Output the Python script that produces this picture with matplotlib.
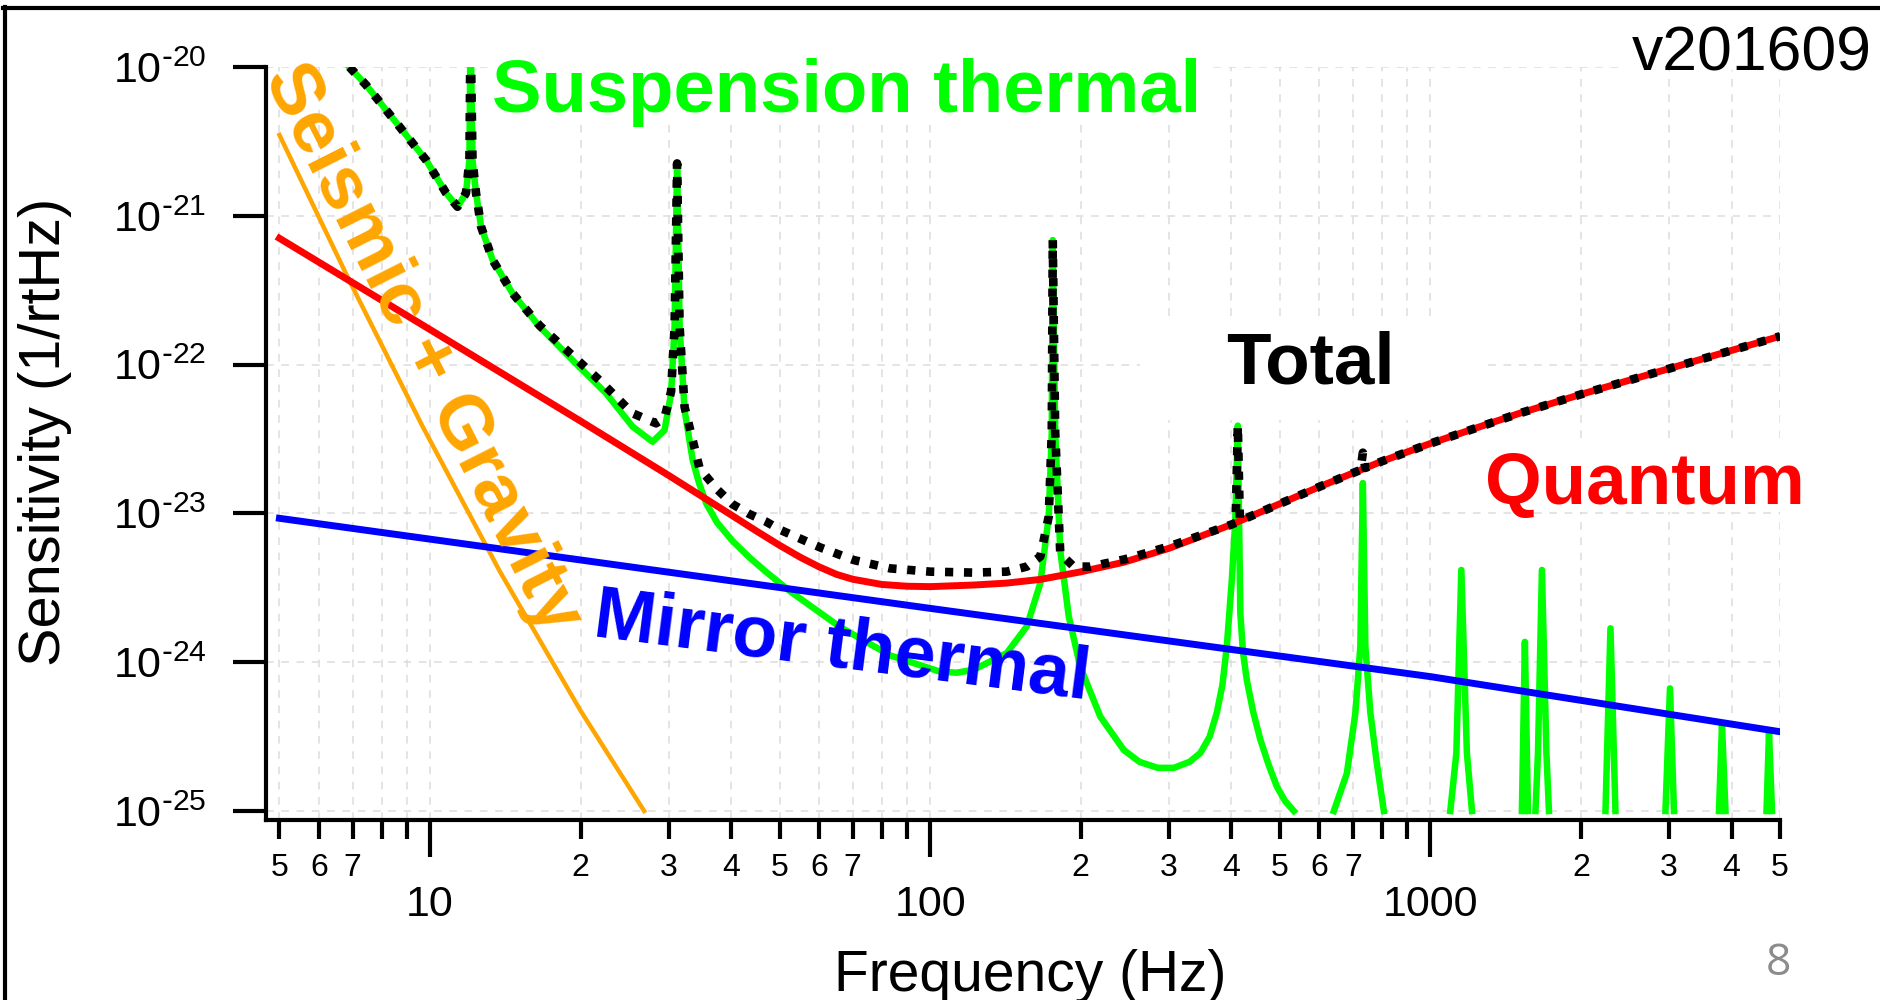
import numpy as np
import matplotlib
matplotlib.use("Agg")
import matplotlib.pyplot as plt
from matplotlib.ticker import FixedLocator, FixedFormatter, NullLocator
from matplotlib.lines import Line2D
from matplotlib.patches import Rectangle

plt.rcParams['font.family'] = ['Liberation Sans', 'DejaVu Sans']
plt.rcParams['mathtext.default'] = 'regular'

W, H = 1881, 1000
nan = np.nan

# ---------------- data ----------------
seismic_freq = [5.0, 6.9, 9.66, 13.8, 20.0, 26.8]
seismic_asd = [3.49e-21, 3.66e-22, 3.85e-23, 4.06e-24, 4.72e-25, 1.0e-25]

mirror_freq = [5.0, 100.0, 1000.0, 5000.0]
mirror_asd = [9.27e-24, 2.30e-24, 8.0e-25, 3.41e-25]

quantum_freq = [5.0, 10.0, 20.0, 30.0, 40.0, 45.0, 50.0, 55.0, 60.0, 65.0, 70.0,
                80.0, 90.0, 100.0, 122.0, 142.0, 166.0, 200.0, 244.0, 300.0,
                400.0, 500.0, 600.0, 800.0, 1000.0, 1500.0, 2000.0, 5000.0]
quantum_asd = [7.06e-22, 1.72e-22, 4.17e-23, 1.80e-23, 9.77e-24, 7.59e-24, 6.10e-24,
               5.07e-24, 4.37e-24, 3.89e-24, 3.61e-24, 3.33e-24, 3.24e-24, 3.22e-24,
               3.30e-24, 3.40e-24, 3.60e-24, 4.05e-24, 4.70e-24, 5.82e-24,
               8.41e-24, 1.16e-23, 1.51e-23, 2.24e-23, 2.95e-23, 4.68e-23,
               6.31e-23, 1.55e-22]

susp_freq = [6.9, 7.45, 8.69, 9.82, 10.77, 11.35, 11.8, 11.99, 12.05, 12.16, 12.36,
             12.65, 13.34, 14.62, 16.56, 19.28, 22.49, 25.41, 27.86, 29.44, 30.34,
             30.83, 31.05, 31.19, 31.55, 32.28, 33.5, 34.5, 35.65, 37.5, 40.27, 43.5,
             47.0, 52.5, 66.1, 83.2, 104.7, 113.0, 122.2, 142.2, 156.0, 166.0, 172.6,
             175.0, 175.8, 177.8, 182.0, 189.2, 199.5, 218.8, 243.8, 262.0, 285.0,
             307.0, 330.0, 346.7, 362.0, 374.1, 384.0, 391.7, 400.9, 407.4, 412.1,
             416.9, 422.0, 429.5, 442.0, 457.1, 475.0, 493.2, 512.0, 533.3, nan,
             641.2, 680.8, 707.9, 724.4, 732.8, 741.3, 758.6, 781.6, 807.2, nan,
             1096, 1127, 1153, 1183, 1211, nan,
             1524, 1545, 1567, nan,
             1622, 1641, 1671, 1706, 1726, nan,
             2239, 2291, 2344, nan,
             2951, 3013, 3069, nan,
             3776, 3828, 3890, nan,
             4699, 4753, 4819]
susp_asd = [1.0e-20, 7.57e-21, 3.97e-21, 2.37e-21, 1.42e-21, 1.15e-21, 1.42e-21,
            2.37e-21, 2.0e-20, 2.37e-21, 1.42e-21, 8.45e-22, 5.05e-22, 3.01e-22,
            1.80e-22, 1.07e-22, 6.41e-23, 3.83e-23, 3.03e-23, 3.63e-23, 6.41e-23,
            1.80e-22, 8.45e-22, 2.25e-21, 1.80e-22, 4.95e-23, 2.29e-23, 1.60e-23,
            1.17e-23, 8.67e-24, 6.52e-24, 5.06e-24, 4.04e-24, 2.99e-24, 1.72e-24,
            1.11e-24, 8.63e-25, 8.5e-25, 8.91e-25, 1.15e-24, 1.74e-24, 3.39e-24,
            9.55e-24, 3.47e-23, 6.87e-22, 3.47e-23, 5.62e-24, 2.04e-24, 9.33e-25,
            4.31e-25, 2.57e-25, 2.14e-25, 1.95e-25, 1.95e-25, 2.14e-25, 2.45e-25,
            3.16e-25, 4.57e-25, 7.08e-25, 1.27e-24, 3.57e-24, 9.04e-24, 3.89e-23,
            2.13e-24, 1.17e-24, 7.60e-25, 4.68e-25, 3.02e-25, 2.04e-25, 1.46e-25,
            1.17e-25, 1.0e-25, nan,
            1.0e-25, 1.79e-25, 4.54e-25, 1.27e-24, 1.60e-23, 1.27e-24, 4.57e-25,
            2.09e-25, 1.0e-25, nan,
            1.0e-25, 2.45e-25, 4.17e-24, 2.45e-25, 1.0e-25, nan,
            1.0e-25, 1.37e-24, 1.0e-25, nan,
            1.0e-25, 2.45e-25, 4.17e-24, 2.45e-25, 1.0e-25, nan,
            1.0e-25, 1.69e-24, 1.0e-25, nan,
            1.0e-25, 6.67e-25, 1.0e-25, nan,
            1.0e-25, 3.80e-25, 1.0e-25, nan,
            1.0e-25, 3.33e-25, 1.0e-25]

total_freq = [6.9, 7.45, 8.69, 9.82, 10.77, 11.35, 11.8, 11.99, 12.05, 12.16, 12.36,
              12.65, 13.34, 14.62, 16.56, 19.28, 21.8, 25.4, 28.3, 29.44, 30.34,
              30.83, 31.05, 31.19, 31.55, 32.28, 34.6, 37.5, 40.3, 43.5, 47.0, 50.1,
              60.3, 70.3, 83.2, 100.0, 122.2, 142.2, 156.0, 166.0, 172.6, 175.0,
              175.8, 177.8, 182.0, 193.6, 208.9, 244.0, 300.0, 400.0, 408.0, 412.1,
              416.0, 500.0, 600.0, 725.0, 732.8, 741.0, 800.0, 1000.0, 1500.0,
              2000.0, 5000.0]
total_asd = [1.0e-20, 7.57e-21, 3.97e-21, 2.37e-21, 1.42e-21, 1.15e-21, 1.42e-21,
             2.37e-21, 2.0e-20, 2.37e-21, 1.42e-21, 8.45e-22, 5.05e-22, 3.02e-22,
             1.83e-22, 1.15e-22, 7.87e-23, 4.71e-23, 4.03e-23, 4.4e-23, 6.6e-23,
             1.8e-22, 8.45e-22, 2.25e-21, 1.8e-22, 5.2e-23, 2.0e-23, 1.45e-23,
             1.15e-23, 9.9e-24, 8.79e-24, 7.76e-24, 5.90e-24, 4.86e-24, 4.27e-24,
             4.06e-24, 4.0e-24, 4.06e-24, 4.39e-24, 5.13e-24, 9.55e-24, 3.5e-23,
             6.87e-22, 3.5e-23, 5.37e-24, 4.39e-24, 4.39e-24, 4.9e-24, 5.99e-24,
             8.41e-24, 8.65e-24, 3.89e-23, 8.91e-24, 1.16e-23, 1.51e-23, 1.96e-23,
             2.56e-23, 2.02e-23, 2.24e-23, 2.95e-23, 4.68e-23, 6.31e-23, 1.55e-22]

major_ticks = [10, 100, 1000]
major_labels = ['10', '100', '1000']
minor_ticks = [5, 6, 7, 8, 9, 20, 30, 40, 50, 60, 70, 80, 90,
               200, 300, 400, 500, 600, 700, 800, 900, 2000, 3000, 4000, 5000]
minor_labels = ['5', '6', '7', '', '', '2', '3', '4', '5', '6', '7', '', '',
                '2', '3', '4', '5', '6', '7', '', '', '2', '3', '4', '5']
y_ticks = [1e-25, 1e-24, 1e-23, 1e-22, 1e-21, 1e-20]
y_exponents = ['25', '24', '23', '22', '21', '20']

# ---------------- figure ----------------
fig = plt.figure(figsize=(18.81, 10), dpi=100)
ax = fig.add_axes([266 / W, 1 - 820 / H, (1780 - 266) / W, (820 - 67) / H])
ax.set_xscale('log')
ax.set_yscale('log')

ax.plot(susp_freq, susp_asd, color='#00ff00', lw=4.7, zorder=2.0)
ax.plot(seismic_freq, seismic_asd, color='#ffa500', lw=3.2, zorder=2.1)
ax.plot(mirror_freq, mirror_asd, color='#0000ff', lw=5.0, zorder=2.2)
ax.plot(quantum_freq, quantum_asd, color='#ff0000', lw=5.0, zorder=2.3)
ax.plot(total_freq, total_asd, color='black', lw=6.2, dashes=(0.95, 1.25),
        dash_capstyle='butt', zorder=2.5)

ax.set_xlim(4.70, 5000)
ax.set_ylim(8.7e-26, 1e-20)

ax.xaxis.set_major_locator(FixedLocator(major_ticks))
ax.xaxis.set_major_formatter(FixedFormatter(major_labels))
ax.xaxis.set_minor_locator(FixedLocator(minor_ticks))
ax.xaxis.set_minor_formatter(FixedFormatter(minor_labels))
ax.yaxis.set_major_locator(FixedLocator(y_ticks))
ax.yaxis.set_major_formatter(FixedFormatter(
    [r'$\mathregular{10^{\text{-}%s}}$' % e for e in y_exponents]))
ax.yaxis.set_minor_locator(NullLocator())

ax.set_axisbelow(True)
ax.grid(True, which='both', axis='x', color='#dcdcdc', lw=1.1, linestyle=(0, (5, 5)))
ax.grid(True, which='major', axis='y', color='#dcdcdc', lw=1.1, linestyle=(0, (5, 5)))

for s in ['top', 'right']:
    ax.spines[s].set_visible(False)
for s in ['left', 'bottom']:
    ax.spines[s].set_linewidth(3.0)

ax.tick_params(axis='y', which='major', direction='out', length=24, width=3.0,
               pad=19, labelsize=31)
ax.tick_params(axis='x', which='major', direction='out', length=26.5, width=3.0,
               pad=20, labelsize=31)
ax.tick_params(axis='x', which='minor', direction='out', length=14, width=3.0,
               pad=10, labelsize=23)

def fx(x):
    return x / W

def fy(y):
    return 1 - y / H

# white boxes behind the labels (hide grid)
for (x0, y0, x1, y1) in [(1140, 317, 1482, 420), (1478, 445, 1815, 512),
                         (488, 55, 1207, 120), (1620, 18, 1881, 70)]:
    r = Rectangle((fx(x0), fy(y1)), fx(x1) - fx(x0), fy(y0) - fy(y1),
                  transform=fig.transFigure, facecolor='white', edgecolor='none',
                  zorder=1, clip_on=False)
    ax.add_artist(r)

tf = fig.transFigure
ax.text(fx(492), fy(112), 'Suspension thermal', color='#00ff00', fontsize=53.5,
        fontweight='bold', ha='left', va='baseline', transform=tf, zorder=1.5)
ax.text(fx(1226), fy(383), 'Total', color='black', fontsize=52.5,
        fontweight='bold', ha='left', va='baseline', transform=tf, zorder=1.5)
ax.text(fx(1485), fy(504), 'Quantum', color='#ff0000', fontsize=52.5,
        fontweight='bold', ha='left', va='baseline', transform=tf, zorder=1.5)
ax.text(fx(405), fy(357), 'Seismic + Gravity', color='#ffa500', fontsize=54,
        fontweight='bold', ha='center', va='baseline', rotation=-63.2,
        rotation_mode='anchor', transform=tf, zorder=5)
ax.text(fx(592), fy(636), 'Mirror thermal', color='#0000ff', fontsize=53,
        fontweight='bold', ha='left', va='baseline', rotation=-7.3,
        rotation_mode='anchor', transform=tf, zorder=5)
ax.text(fx(1872), fy(70), 'v201609', color='black', fontsize=45,
        ha='right', va='baseline', transform=tf, zorder=1.5)

fig.text(fx(45), fy(432), 'Sensitivity (1/rtHz)', rotation=90, ha='center',
         va='center', fontsize=41.5)
fig.text(fx(1030), fy(991), 'Frequency (Hz)', ha='center', va='baseline', fontsize=41)
fig.text(fx(1778), fy(975), '8', ha='center', va='baseline', fontsize=32,
         color='#8c8c8c', family=['Open Sans', 'DejaVu Sans'])

# slide frame
fig.add_artist(Line2D([fx(3), 1.0], [fy(8), fy(8)], color='black', lw=3.0,
                      transform=fig.transFigure))
fig.add_artist(Line2D([fx(5.5), fx(5.5)], [0.0, fy(6.5)], color='black', lw=3.0,
                      transform=fig.transFigure))

try:
    fig.canvas.draw()
except Exception:
    ax.yaxis.set_major_formatter(FixedFormatter(
        [r'$\mathregular{10^{-%s}}$' % e for e in y_exponents]))

fig.savefig('out.png', dpi=100, facecolor='white')
